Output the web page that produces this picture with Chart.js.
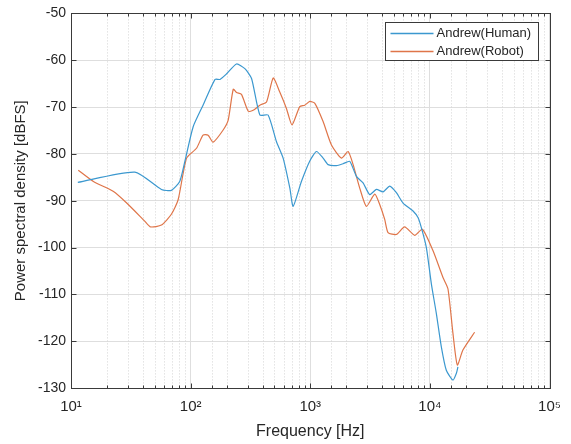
<!DOCTYPE html>
<html>
<head>
<meta charset="utf-8">
<script src="https://cdn.jsdelivr.net/npm/chart.js@4/dist/chart.umd.min.js"></script>
<style>
  html, body { margin: 0; padding: 0; background: #fff; }
  #wrap { width: 571px; height: 444px; }
</style>
</head>
<body>
<div id="wrap"><canvas id="psdChart" width="571" height="444"></canvas></div>
<script>
// series (frequency in Hz, level in dBFS)
const humanFreq = [11.4, 34.2, 57, 69, 81, 89.5, 105, 127, 160, 176, 200, 242, 284, 323, 379, 444, 522, 593, 675, 719, 843, 991, 1127, 1280, 1409, 1655, 1880, 2138, 2430, 2763, 3140, 3570, 4060, 4614, 5245, 5962, 7226, 7950, 8490, 9340, 10290, 11320, 12460, 13710, 15590, 16620, 17150];
const humanPsd = [-86.1, -83.9, -87.6, -87.8, -85.9, -81.6, -74.2, -69.6, -64.1, -64.1, -62.9, -60.8, -61.8, -63.9, -71.7, -71.7, -77.4, -80.9, -87.3, -91.2, -85.9, -81.5, -79.5, -80.9, -82.3, -82.5, -82.1, -81.6, -84.8, -86.2, -88.7, -87.6, -88.1, -86.9, -88.3, -90.5, -92.2, -93.6, -95.8, -100, -107.8, -114.1, -121.2, -126.2, -128.3, -126.9, -125.5];

const robotFreq = [11.5, 15.4, 22.5, 29.2, 41.5, 46.3, 57, 69, 78.6, 92.5, 112, 127, 140, 154, 187, 206, 227, 242, 266, 303, 333, 379, 431, 490, 556, 632, 704, 817, 899, 991, 1092, 1280, 1503, 1822, 2071, 2281, 2590, 2944, 3458, 3805, 4190, 4467, 5245, 6150, 7470, 8650, 10620, 12860, 14150, 15590, 16950, 18870, 23640];
const robotPsd = [-83.5, -85.9, -88.0, -90.5, -94.4, -95.6, -95.2, -92.9, -89.8, -80.9, -78.8, -76, -76, -77.5, -74.9, -72.8, -66.2, -66.9, -67.3, -70.9, -70.7, -69.6, -68.9, -63.8, -66.8, -70.3, -73.8, -69.9, -69.6, -68.8, -69.2, -73.1, -78.1, -80.9, -79.5, -82.3, -87.3, -91.2, -88.6, -90.8, -94, -96.8, -97.2, -95.6, -97.4, -96.1, -100.7, -106.4, -108.8, -118.4, -125.1, -121.9, -118.1];

const seriesNames = ["Andrew(Human)", "Andrew(Robot)"];
const seriesColors = ["#3b98cf", "#df7549"];
const xTickLabels = { 10: "10¹", 100: "10²", 1000: "10³", 10000: "10⁴", 100000: "10⁵" };

const FONT = "'Liberation Sans', Arial, sans-serif";
const AXIS_COLOR = "#3a3a3a";

function isDecade(v) {
  const l = Math.log10(v);
  return Math.abs(l - Math.round(l)) < 1e-6;
}

function toPoints(xs, ys) {
  return xs.map((x, i) => ({ x: x, y: ys[i] }));
}

// minor dotted grid, inner ticks, box and the legend drawn like matlab does
const matlabAxes = {
  id: "matlabAxes",
  beforeDatasetsDraw(chart) {
    const { ctx, chartArea: a, scales } = chart;
    ctx.save();
    ctx.strokeStyle = "#d4d4d4";
    ctx.lineWidth = 1;
    ctx.setLineDash([1, 2]);
    scales.x.ticks.forEach((t) => {
      if (isDecade(t.value)) return;
      const px = Math.round(scales.x.getPixelForValue(t.value)) + 0.5;
      ctx.beginPath();
      ctx.moveTo(px, a.top);
      ctx.lineTo(px, a.bottom);
      ctx.stroke();
    });
    ctx.restore();
  },
  afterDraw(chart) {
    const { ctx, chartArea: a, scales } = chart;
    ctx.save();
    ctx.strokeStyle = AXIS_COLOR;
    ctx.lineWidth = 1;
    ctx.setLineDash([]);
    const L = Math.round(a.left) + 0.5, R = Math.round(a.right) + 0.5;
    const T = Math.round(a.top) + 0.5, B = Math.round(a.bottom) + 0.5;
    ctx.strokeRect(L, T, R - L, B - T);

    ctx.beginPath();
    scales.x.ticks.forEach((t) => {
      const px = Math.round(scales.x.getPixelForValue(t.value)) + 0.5;
      const len = isDecade(t.value) ? 5 : 3;
      ctx.moveTo(px, B); ctx.lineTo(px, B - len);
      ctx.moveTo(px, T); ctx.lineTo(px, T + len);
    });
    scales.y.ticks.forEach((t) => {
      const py = Math.round(scales.y.getPixelForValue(t.value)) + 0.5;
      ctx.moveTo(L, py); ctx.lineTo(L + 5, py);
      ctx.moveTo(R, py); ctx.lineTo(R - 5, py);
    });
    ctx.stroke();

    // legend box, top right inside the axes
    const bx = 385.5, by = 22.5, bw = 153, bh = 38;
    ctx.fillStyle = "#ffffff";
    ctx.fillRect(bx, by, bw, bh);
    ctx.strokeStyle = "#3a3a3a";
    ctx.strokeRect(bx, by, bw, bh);
    ctx.font = "13px " + FONT;
    ctx.textBaseline = "middle";
    ctx.textAlign = "left";
    seriesNames.forEach((name, i) => {
      const ly = by + 11 + i * 18;
      ctx.beginPath();
      ctx.strokeStyle = seriesColors[i];
      ctx.lineWidth = 1.5;
      ctx.moveTo(bx + 5, ly);
      ctx.lineTo(bx + 48, ly);
      ctx.stroke();
      ctx.fillStyle = "#262626";
      ctx.fillText(name, bx + 51, ly);
    });
    ctx.restore();
  },
};

const ctx = document.getElementById("psdChart").getContext("2d");

new Chart(ctx, {
  type: "line",
  data: {
    datasets: [
      {
        label: seriesNames[0],
        data: toPoints(humanFreq, humanPsd),
        borderColor: seriesColors[0],
        borderWidth: 1.2,
        pointRadius: 0,
        tension: 0.2,
        fill: false,
      },
      {
        label: seriesNames[1],
        data: toPoints(robotFreq, robotPsd),
        borderColor: seriesColors[1],
        borderWidth: 1.2,
        pointRadius: 0,
        tension: 0.2,
        fill: false,
      },
    ],
  },
  options: {
    responsive: false,
    animation: false,
    parsing: false,
    layout: {
      padding: { left: 0, right: 21, top: 11, bottom: 0 },
    },
    plugins: {
      legend: { display: false },
      tooltip: { enabled: false },
    },
    scales: {
      x: {
        type: "logarithmic",
        min: 10,
        max: 100000,
        afterFit: (scale) => { scale.height = 56; },
        border: { display: false },
        grid: {
          drawTicks: false,
          color: (c) => (c.tick && isDecade(c.tick.value) ? "#dedede" : "rgba(0,0,0,0)"),
        },
        ticks: {
          autoSkip: false,
          maxRotation: 0,
          padding: 10,
          color: "#262626",
          font: { family: FONT, size: 15 },
          callback: (v) => xTickLabels[v] || "",
        },
        title: {
          display: true,
          text: "Frequency [Hz]",
          color: "#262626",
          font: { family: FONT, size: 16 },
          padding: { top: 0, bottom: 3 },
        },
      },
      y: {
        min: -130,
        max: -50,
        afterFit: (scale) => { scale.width = 71; },
        border: { display: false },
        grid: { drawTicks: false, color: "#dedede" },
        ticks: {
          stepSize: 10,
          padding: 5,
          color: "#262626",
          font: { family: FONT, size: 14 },
        },
        title: {
          display: true,
          text: "Power spectral density [dBFS]",
          color: "#262626",
          font: { family: FONT, size: 15 },
          padding: { top: 12, bottom: 0 },
        },
      },
    },
  },
  plugins: [matlabAxes],
});
</script>
</body>
</html>
